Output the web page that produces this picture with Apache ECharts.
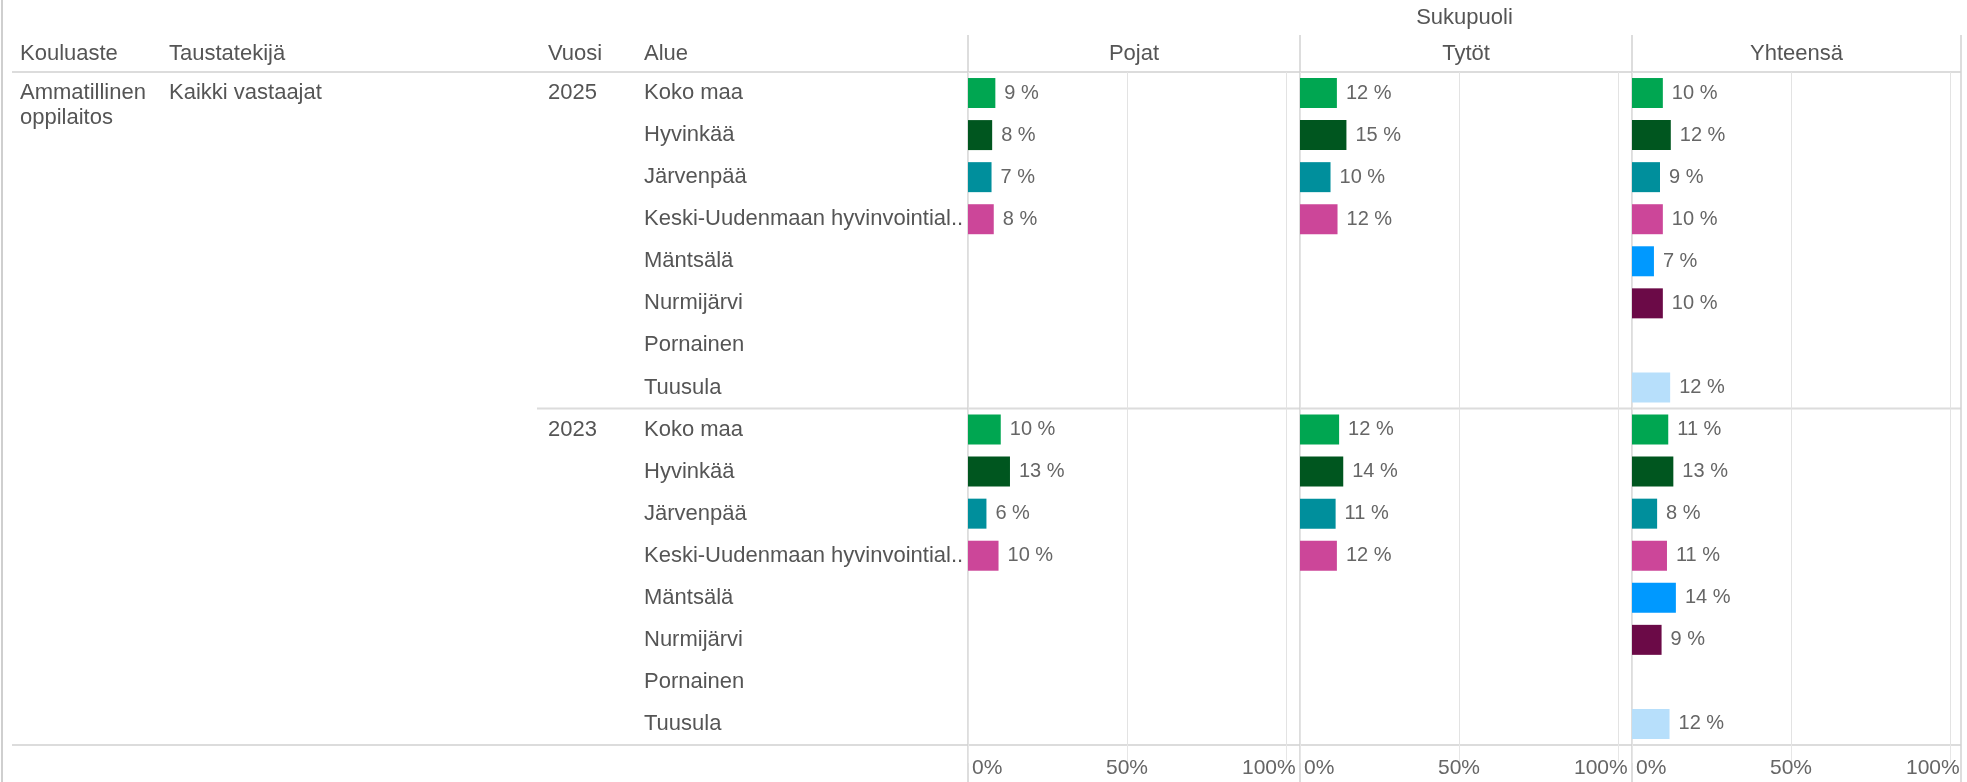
<!DOCTYPE html>
<html>
<head>
<meta charset="utf-8">
<script src="https://cdn.jsdelivr.net/npm/echarts@6/dist/echarts.min.js"></script>
<style>
    html, body { margin: 0; padding: 0; background: #fff; }
    #main { width: 1967px; height: 782px; }
</style>
</head>
<body>
<div id="main"></div>
<script>
    // data
    var areas = ['Koko maa', 'Hyvinkää', 'Järvenpää', 'Keski-Uudenmaan hyvinvointial..', 'Mäntsälä', 'Nurmijärvi', 'Pornainen', 'Tuusula'];
    var areaColors = ['#00a651', '#00561f', '#008f9c', '#cc4699', '#0099ff', '#6b0a47', '#999999', '#b7dffb'];
    var years = ['2025', '2023'];
    var panels = ['Pojat', 'Tytöt', 'Yhteensä'];

    var pojat2025 = [8.6, 7.6, 7.4, 8.1, null, null, null, null];
    var tytot2025 = [11.6, 14.6, 9.6, 11.8, null, null, null, null];
    var yht2025 = [9.7, 12.2, 8.8, 9.7, 6.9, 9.7, null, 12.0];
    var pojat2023 = [10.3, 13.2, 5.8, 9.6, null, null, null, null];
    var tytot2023 = [12.3, 13.6, 11.2, 11.6, null, null, null, null];
    var yht2023 = [11.4, 13.0, 7.9, 11.0, 13.8, 9.3, null, 11.8];

    var panelData = [
        pojat2025.concat(pojat2023),
        tytot2025.concat(tytot2023),
        yht2025.concat(yht2023)
    ];
    var rowLabels = areas.concat(areas);

    // layout
    var gridTop = 72, gridBottom = 745;
    var panelLeft = [968, 1300, 1632];
    var panelWidth = 318;
    var rightEdge = 1961;
    var rowH = (gridBottom - gridTop) / rowLabels.length;
    var font = "'Liberation Sans', Arial, sans-serif";
    var txt = '#555';
    var lineCol = '#dcdcdc';

    function rowY(i) { return gridTop + (i + 0.5) * rowH; }

    var grids = [], xAxes = [], yAxes = [], series = [];
    panels.forEach(function (p, k) {
        grids.push({ left: panelLeft[k], top: gridTop, width: panelWidth, height: gridBottom - gridTop });
        xAxes.push({
            type: 'value', gridIndex: k, min: 0, max: 100, interval: 50,
            axisLine: { show: false },
            axisTick: { show: true, length: 18, lineStyle: { color: '#e6e6e6' } },
            splitLine: { show: true, lineStyle: { color: '#e3e3e3', width: 1 } },
            axisLabel: {
                color: '#666', fontSize: 21, fontFamily: font,
                margin: 13, alignMinLabel: 'left', alignMaxLabel: 'right',
                formatter: function (v) {
                    if (v === 0) return '{a|0%}';
                    if (v === 100) return '{c|100%}';
                    return v + '%';
                },
                rich: {
                    a: { padding: [0, 0, 0, 4], color: '#666', fontSize: 21, fontFamily: font },
                    c: { width: 44, align: 'left', color: '#666', fontSize: 21, fontFamily: font }
                }
            }
        });
        yAxes.push({
            type: 'category', gridIndex: k, inverse: true, data: rowLabels,
            axisLine: { show: false }, axisTick: { show: false }, splitLine: { show: false },
            axisLabel: k === 0 ? {
                show: true, align: 'left', margin: panelLeft[0] - 644,
                color: txt, fontSize: 22, fontFamily: font
            } : { show: false }
        });
        series.push({
            type: 'bar', xAxisIndex: k, yAxisIndex: k, barWidth: 30,
            data: panelData[k].map(function (v, i) {
                return { value: v, itemStyle: { color: areaColors[i % areas.length] } };
            }),
            label: {
                show: true, position: 'right', distance: 9,
                color: '#666', fontSize: 20, fontFamily: font,
                formatter: function (p) { return Math.round(p.value) + ' %'; }
            },
            silent: true
        });
    });

    var graphic = [];
    function hline(x1, x2, y, c, w) {
        graphic.push({ type: 'line', shape: { x1: x1, y1: y, x2: x2, y2: y }, style: { stroke: c || lineCol, lineWidth: w || 2 }, silent: true });
    }
    function vline(x, y1, y2, c, w) {
        graphic.push({ type: 'line', shape: { x1: x, y1: y1, x2: x, y2: y2 }, style: { stroke: c || lineCol, lineWidth: w || 1.5 }, silent: true });
    }
    function text(t, x, y, align) {
        graphic.push({ type: 'text', x: x, y: y, style: { text: t, fill: txt, font: '22px ' + font, align: align || 'left', verticalAlign: 'middle' }, silent: true });
    }

    // table lines
    vline(2, 0, 782, '#cfcfcf', 2);
    hline(12, rightEdge, gridTop);
    hline(537, rightEdge, gridTop + areas.length * rowH);
    hline(12, rightEdge, gridBottom);
    panelLeft.forEach(function (x) { vline(x, 35, 782, '#d2d2d2'); });
    vline(rightEdge, 35, 782, '#d2d2d2');

    // headers
    text('Sukupuoli', (panelLeft[0] + rightEdge) / 2, 18, 'center');
    text('Kouluaste', 20, 54);
    text('Taustatekijä', 169, 54);
    text('Vuosi', 548, 54);
    text('Alue', 644, 54);
    panels.forEach(function (p, k) {
        var r = k < panels.length - 1 ? panelLeft[k + 1] : rightEdge;
        text(p, (panelLeft[k] + r) / 2, 54, 'center');
    });

    // row group texts
    text('Ammatillinen', 20, rowY(0));
    text('oppilaitos', 20, rowY(0) + 25);
    text('Kaikki vastaajat', 169, rowY(0));
    years.forEach(function (y, g) { text(y, 548, rowY(g * areas.length)); });

    var myChart = echarts.init(document.getElementById('main'));
    var option = {
        animation: false,
        grid: grids,
        xAxis: xAxes,
        yAxis: yAxes,
        series: series,
        graphic: graphic
    };
    myChart.setOption(option);
</script>
</body>
</html>
